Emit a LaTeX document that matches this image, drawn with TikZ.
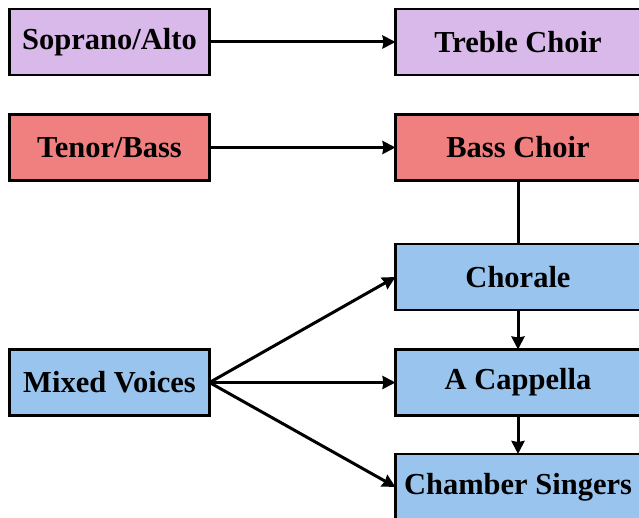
\documentclass[tikz,border=0pt]{standalone}
\usepackage{fontspec}
\setmainfont{Liberation Serif}
\usepackage{xcolor}
\usepackage{tikz}
\usetikzlibrary{arrows.meta,positioning}
\definecolor{treblepurple}{HTML}{D9B8EA}
\definecolor{bassred}{HTML}{F08080}
\definecolor{mixedblue}{HTML}{99C4EE}

\begin{document}
\begin{tikzpicture}[
    voice/.style={rectangle, draw, line width=2.8pt, minimum width=200pt, minimum height=66pt, inner sep=0pt, outer sep=0pt, font=\bfseries\fontsize{30.5}{33}\selectfont},
    choir/.style={voice, minimum width=245pt},
    arrow/.style={-{Stealth[length=13pt,width=13pt,inset=1pt]}, line width=3pt},
    link/.style={line width=3pt}
]
    \useasboundingbox (0pt,0pt) rectangle (639pt,-518pt);
    \node[voice, fill=treblepurple] (sop) at (109.5pt,-42pt) {Soprano/Alto};
    \node[choir, fill=treblepurple, right=186pt of sop] (treble) {Treble Choir};
    \node[voice, fill=bassred, below=39.5pt of sop] (tenor) {Tenor/Bass};
    \node[choir, fill=bassred, right=186pt of tenor] (bass) {Bass Choir};
    \node[choir, fill=mixedblue, below=63.5pt of bass] (chorale) {Chorale};
    \node[choir, fill=mixedblue, below=39.5pt of chorale] (acap) {A Cappella};
    \node[choir, fill=mixedblue, below=38.5pt of acap] (chamber) {Chamber Singers};
    \node[voice, fill=mixedblue, left=186pt of acap] (mixed) {Mixed Voices};

    \draw[arrow] (sop) -- (treble);
    \draw[arrow] (tenor) -- (bass);
    \draw[link] (bass) -- (chorale);
    \draw[arrow] (chorale) -- (acap);
    \draw[arrow] (acap) -- (chamber);
    \draw[arrow] (mixed.east) -- (chorale.west);
    \draw[arrow] (mixed.east) -- (acap.west);
    \draw[arrow] (mixed.east) -- (chamber.west);
\end{tikzpicture}
\end{document}
